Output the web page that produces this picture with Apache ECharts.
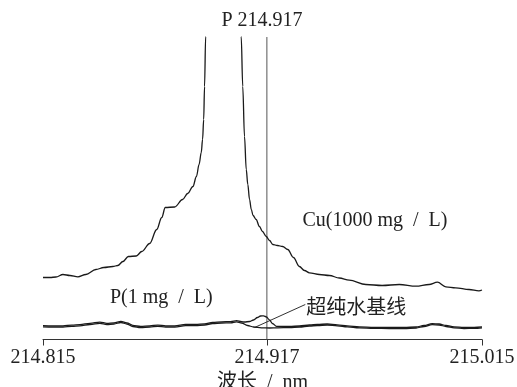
<!DOCTYPE html>
<html>
<head>
<meta charset="utf-8">
<script src="https://cdn.jsdelivr.net/npm/echarts@6/dist/echarts.min.js"></script>
<style>
  html, body { margin: 0; padding: 0; background: #fff; }
  #chart { width: 517px; height: 387px; }
</style>
</head>
<body>
<div id="chart"></div>
<script>
// Wavelength axis (nm) and its labelled ticks
const xMin = 214.815;
const xMax = 215.015;
const tickValues = [214.815, 214.917, 215.015];
const pLine = 214.917;
const yTop = 302.5;

// Cu (1000 mg/L) emission profile: wavelength (nm) and relative intensity
const cuWl = [214.8150, 214.8182, 214.8209, 214.8241, 214.8273, 214.8309, 214.8345, 214.8391,
  214.8427, 214.8468, 214.8491, 214.8514, 214.8539, 214.8575, 214.8600, 214.8636, 214.8668,
  214.8691, 214.8707, 214.8750, 214.8786, 214.8809, 214.8833, 214.8849, 214.8861, 214.8871,
  214.8877, 214.8882, 214.8886, 214.8891, 214.8895, 214.8973, 214.9050, 214.9053, 214.9060,
  214.9068, 214.9076, 214.9083, 214.9091, 214.9099, 214.9107, 214.9121, 214.9136, 214.9150,
  214.9167, 214.9182, 214.9197, 214.9218, 214.9242, 214.9265, 214.9291, 214.9318, 214.9341,
  214.9364, 214.9409, 214.9455, 214.9500, 214.9545, 214.9621, 214.9695, 214.9773, 214.9849,
  214.9909, 214.9947, 214.9985, 215.0030, 215.0091, 215.0136, 215.0150];
const cuI = [62, 62, 62.5, 65, 64, 62.7, 65, 70,
  72, 73, 74, 78, 83, 83.5, 88, 96, 110,
  122, 132, 132.5, 140, 146, 153, 163, 175, 187,
  200, 220, 253, 303, 360, 1500, 360, 303, 253,
  203, 170, 155, 140, 130, 124, 120, 113, 108,
  103, 99, 95, 94, 93, 90, 82, 73, 69,
  66.7, 65, 64, 61.5, 59.3, 55, 54, 55, 53.3,
  55, 57.3, 52.7, 51.7, 50, 48.7, 49.5];

// Ultrapure water baseline
const waterWl = [214.8150, 214.8195, 214.8241, 214.8282, 214.8318, 214.8364, 214.8409, 214.8441,
  214.8473, 214.8505, 214.8532, 214.8559, 214.8595, 214.8636, 214.8673, 214.8709, 214.8750,
  214.8800, 214.8845, 214.8886, 214.8923, 214.8964, 214.9005, 214.9032, 214.9055, 214.9082,
  214.9109, 214.9145, 214.9182, 214.9218, 214.9273, 214.9318, 214.9364, 214.9400, 214.9445,
  214.9491, 214.9536, 214.9591, 214.9659, 214.9727, 214.9795, 214.9850, 214.9886, 214.9923,
  214.9955, 214.9986, 215.0023, 215.0068, 215.0114, 215.0150];
const waterI = [12.7, 12.5, 12.5, 13.2, 13.7, 15, 16.2, 15,
  15.5, 17, 15.5, 13, 12, 12.5, 13.2, 12.5, 12.5,
  13.8, 14, 14.5, 16, 16.5, 16.7, 17.7, 16.5, 14,
  12.5, 11.7, 11.5, 11.7, 12, 12.5, 13.5, 14, 14.5,
  13.7, 12.7, 11.7, 11.2, 11, 11, 11.5, 13, 14.8,
  14.5, 13, 11.7, 11, 11.2, 11.7];

// P (1 mg/L) profile with its small line at 214.917 nm
const pWl = [214.8150, 214.8195, 214.8241, 214.8282, 214.8318, 214.8364, 214.8409, 214.8441,
  214.8473, 214.8505, 214.8532, 214.8559, 214.8595, 214.8636, 214.8673, 214.8709, 214.8750,
  214.8800, 214.8845, 214.8886, 214.8923, 214.8964, 214.9005, 214.9032, 214.9055, 214.9068,
  214.9091, 214.9109, 214.9127, 214.9141, 214.9155, 214.9168, 214.9182, 214.9195, 214.9214,
  214.9273, 214.9318, 214.9364, 214.9400, 214.9445, 214.9491, 214.9536, 214.9591, 214.9659,
  214.9727, 214.9795, 214.9850, 214.9886, 214.9923, 214.9955, 214.9986, 215.0023, 215.0068,
  215.0114, 215.0150];
const pI = [13.9, 13.7, 13.7, 14.4, 14.9, 16.2, 17.4, 16.2,
  16.7, 18.2, 16.7, 14.2, 13.2, 13.7, 14.4, 13.7, 13.7,
  15, 15.2, 15.7, 17.2, 17.7, 17.9, 18.9, 17.9, 17.5,
  18, 19.5, 22, 23.5, 23.7, 22.5, 19.5, 16, 13.2,
  13, 13.5, 14.5, 15, 15.5, 14.7, 13.7, 12.7, 12.2,
  12, 12, 12.5, 14, 15.8, 15.5, 14, 12.7, 12,
  12.2, 12.7];

// Leader from the baseline label down to the baseline trace
const leaderWl = [214.9114, 214.9345];
const leaderI = [12, 35];

const zip = (xs, ys) => xs.map((x, i) => [x, ys[i]]);

const serif = "'Liberation Serif', 'Times New Roman', 'Noto Sans CJK SC', serif";
const cjk = "'Noto Sans CJK SC', sans-serif";
const ink = '#1a1a1a';
const sp = '\u2002';

const chart = echarts.init(document.getElementById('chart'), null, { renderer: 'canvas' });

const lineBase = {
  type: 'line',
  showSymbol: false,
  smooth: 0.35,
  smoothMonotone: 'x',
  clip: true,
  silent: true,
  animation: false,
  lineStyle: { color: ink, width: 1.3 }
};

chart.setOption({
  animation: false,
  backgroundColor: '#fff',
  grid: { left: 43, right: 35, top: 37, bottom: 47.5, containLabel: false, outerBoundsMode: 'none' },
  xAxis: {
    type: 'value',
    min: xMin,
    max: xMax,
    splitLine: { show: false },
    axisLine: { lineStyle: { color: '#333', width: 1 } },
    axisTick: { customValues: tickValues, length: 6, lineStyle: { color: '#333', width: 1 } },
    axisLabel: {
      customValues: tickValues,
      formatter: v => v.toFixed(3),
      fontFamily: serif,
      fontSize: 20,
      color: '#222',
      margin: 8
    },
    name: '波长' + sp + '/' + sp + 'nm',
    nameLocation: 'middle',
    nameGap: 28,
    nameTextStyle: { fontFamily: serif, fontSize: 20, color: '#222' }
  },
  yAxis: { type: 'value', min: 0, max: yTop, show: false },
  series: [
    // marker line at the P 214.917 nm position
    { type: 'line', silent: true, animation: false, showSymbol: false, clip: false,
      data: [[pLine, 0], [pLine, yTop]],
      lineStyle: { color: '#555', width: 1 } },
    Object.assign({}, lineBase, { name: 'Cu(1000 mg / L)', data: zip(cuWl, cuI) }),
    Object.assign({}, lineBase, { name: 'P(1 mg / L)', data: zip(pWl, pI) }),
    Object.assign({}, lineBase, { name: '超纯水基线', data: zip(waterWl, waterI) }),
    { type: 'line', silent: true, animation: false, showSymbol: false,
      data: zip(leaderWl, leaderI),
      lineStyle: { color: ink, width: 0.9 } }
  ]
});

// Text annotations anchored to data positions
function px(x, y) {
  return chart.convertToPixel({ gridIndex: 0 }, [x, y]);
}
const titleX = px(214.9148, 0)[0];
const cuPos = px(214.9332, 119);
const pPos = px(214.8455, 42);
const wPos = px(214.9349, 33);

chart.setOption({
  graphic: [
    { type: 'text', x: titleX, y: 21, silent: true,
      style: { text: 'P 214.917', font: '20px ' + serif, fill: '#222', align: 'center', verticalAlign: 'middle' } },
    { type: 'text', x: cuPos[0], y: cuPos[1], silent: true,
      style: { text: 'Cu(1000 mg' + sp + '/' + sp + 'L)', font: '20px ' + serif, fill: '#222', align: 'left', verticalAlign: 'middle' } },
    { type: 'text', x: pPos[0], y: pPos[1], silent: true,
      style: { text: 'P(1 mg' + sp + '/' + sp + 'L)', font: '20px ' + serif, fill: '#222', align: 'left', verticalAlign: 'middle' } },
    { type: 'text', x: wPos[0], y: wPos[1], silent: true,
      style: { text: '超纯水基线', font: '20px ' + cjk, fill: '#222', align: 'left', verticalAlign: 'middle' } }
  ]
});
</script>
</body>
</html>
